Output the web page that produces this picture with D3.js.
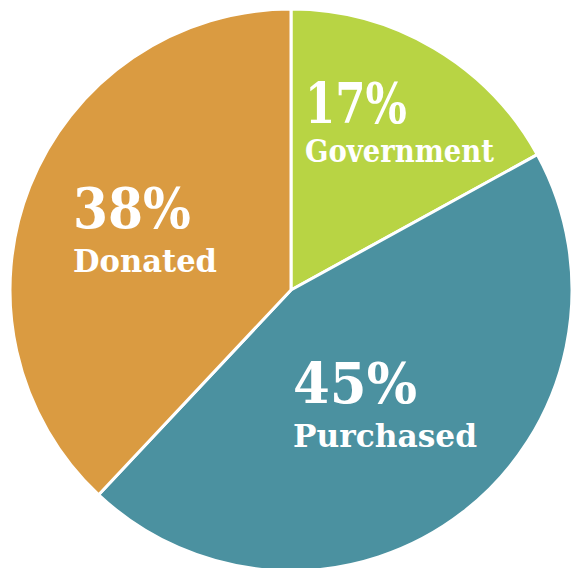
<!DOCTYPE html>
<html><head><meta charset="utf-8">
<script src="https://cdn.jsdelivr.net/npm/d3@7"></script>
<style>html,body{margin:0;padding:0;background:#fff;overflow:hidden}</style>
</head><body>
<svg id="c" width="573" height="568"></svg>
<script>
const categories = ["Government", "Purchased", "Donated"];
const values = [17, 45, 38];
const colors = ["#b8d444", "#4b91a0", "#da9b41"];
// label layout (positions/sizes), separate from data
const labelPos = [
  {x:305, y:123, w1:102, y2:162, w2:189},
  {x:293, y:403, w1:124, y2:447, w2:184},
  {x:73,  y:228, w1:118, y2:272, w2:144}
];

const svg = d3.select("#c");
const cx = 291, cy = 290, r = 281;
const g = svg.append("g").attr("transform", `translate(${cx},${cy})`);
const pie = d3.pie().sort(null).value(d => d)(values);
const arc = d3.arc().innerRadius(0).outerRadius(r);
g.selectAll("path").data(pie).join("path")
  .attr("d", arc).attr("fill", (d,i) => colors[i])
  .attr("stroke", "#fff").attr("stroke-width", 3).attr("stroke-linejoin","round");

const font = "'DejaVu Serif', 'Liberation Serif', serif";
categories.forEach((c, i) => {
  const p = labelPos[i];
  svg.append("text").attr("x", p.x).attr("y", p.y)
    .attr("font-family", font).attr("font-weight", "bold").attr("font-size", 56)
    .attr("fill", "#fff").attr("textLength", p.w1).attr("lengthAdjust", "spacingAndGlyphs")
    .text(values[i] + "%");
  svg.append("text").attr("x", p.x).attr("y", p.y2)
    .attr("font-family", font).attr("font-weight", "bold").attr("font-size", 31)
    .attr("fill", "#fff").attr("textLength", p.w2).attr("lengthAdjust", "spacingAndGlyphs")
    .text(c);
});
</script>
</body></html>
